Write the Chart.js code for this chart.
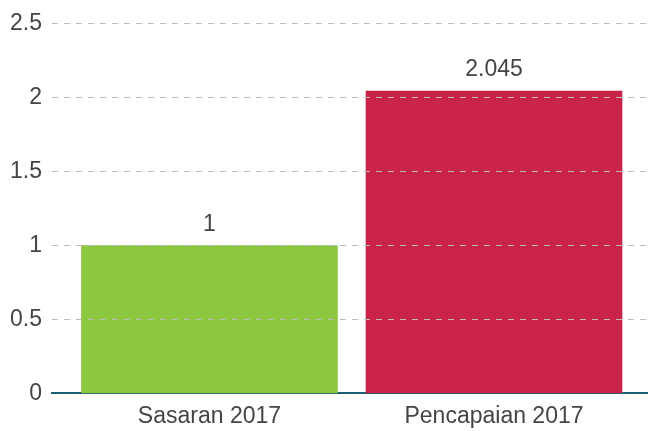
<!DOCTYPE html>
<html>
<head>
<meta charset="utf-8">
<script src="https://cdn.jsdelivr.net/npm/chart.js@4"></script>
<style>
  html, body { margin: 0; padding: 0; background: #fff; }
  #wrap { width: 648px; height: 431px; }
</style>
</head>
<body>
<div id="wrap"><canvas id="barChart"></canvas></div>
<script>
// data
var categories = ["Sasaran 2017", "Pencapaian 2017"];
var values = [1, 2.045];
var valueLabels = ["1", "2.045"];
var barColors = ["#8DC63F", "#C9234A"];
var yTicks = [0, 0.5, 1, 1.5, 2, 2.5];

var fontFamily = '"Liberation Sans", Arial, sans-serif';

// numbers on top of the bars
var barLabels = {
    id: 'barLabels',
    afterDatasetsDraw: function (chart) {
        var ctx = chart.ctx;
        var meta = chart.getDatasetMeta(0);
        ctx.save();
        ctx.font = '23px ' + fontFamily;
        ctx.fillStyle = '#444';
        ctx.textAlign = 'center';
        ctx.textBaseline = 'middle';
        meta.data.forEach(function (bar, i) {
            ctx.fillText(valueLabels[i], bar.x, bar.y - 21);
        });
        ctx.restore();
    }
};

var ctxB = document.getElementById("barChart").getContext('2d');
var myBarChart = new Chart(ctxB, {
    type: 'bar',
    data: {
        datasets: [{
            data: values.map(function (v, i) { return { x: i, y: v }; }),
            backgroundColor: barColors,
            borderWidth: 0,
            barThickness: 256
        }]
    },
    options: {
        responsive: true,
        maintainAspectRatio: false,
        animation: false,
        layout: { padding: { top: 5, right: 0, left: 0, bottom: -8 } },
        plugins: {
            legend: { display: false },
            tooltip: { enabled: false }
        },
        scales: {
            x: {
                type: 'linear',
                bounds: 'data',
                offset: false,
                min: -0.5534,
                max: 1.5412,
                grid: { display: false, drawTicks: false },
                border: { color: '#1F5F73', width: 2 },
                afterBuildTicks: function (scale) {
                    scale.ticks = categories.map(function (c, i) { return { value: i }; });
                },
                ticks: {
                    autoSkip: false,
                    maxRotation: 0,
                    padding: 9,
                    color: '#444',
                    font: { family: fontFamily, size: 23 },
                    callback: function (v) { return categories[v] || ''; }
                }
            },
            y: {
                min: yTicks[0],
                max: yTicks[yTicks.length - 1],
                grid: {
                    color: function (c) { return c.tick && c.tick.value === 0 ? 'rgba(0,0,0,0)' : '#BBBBBB'; },
                    lineWidth: 1,
                    drawTicks: false,
                    z: 1
                },
                border: { display: false, dash: [6, 6] },
                ticks: {
                    stepSize: 0.5,
                    padding: 10,
                    color: '#444',
                    font: { family: fontFamily, size: 23 },
                    callback: function (v) { return String(v); }
                }
            }
        }
    },
    plugins: [barLabels]
});
</script>
</body>
</html>
